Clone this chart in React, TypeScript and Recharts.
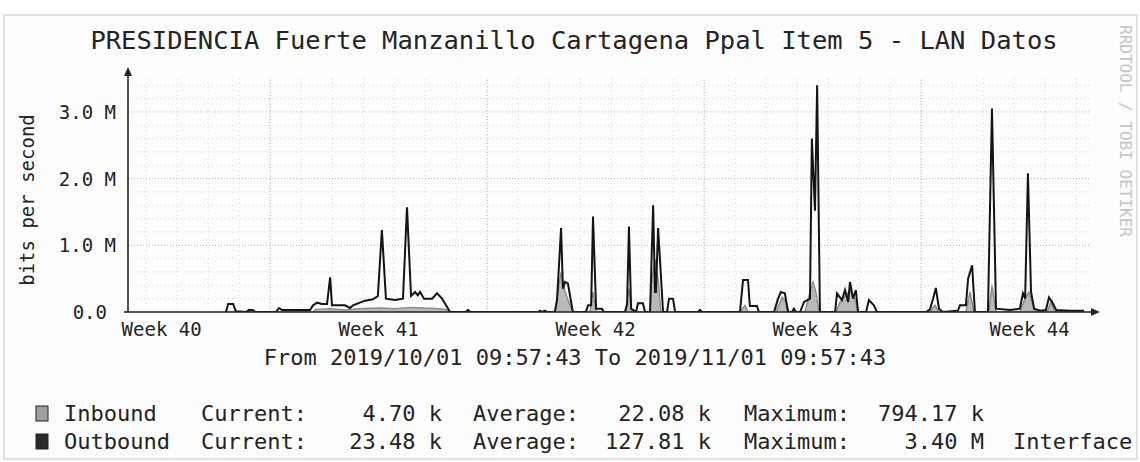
import React from 'react';
import { ComposedChart, Line, Area, XAxis, YAxis, ReferenceLine } from 'recharts';

// outbound traffic, days since 2019/10/01 09:57:43 and Mbit/s
const outboundDays = [
  3.16, 3.23, 3.39, 3.48, 3.81, 3.9, 4.03, 4.1, 4.77, 4.87, 4.97, 5.87, 5.97, 6.1, 6.26, 6.42,
  6.52, 6.58, 7.0, 7.16, 7.26, 7.48, 7.65, 7.9, 8.06, 8.19, 8.32, 8.61, 8.87, 9.0, 9.13, 9.26,
  9.35, 9.42, 9.55, 9.81, 9.97, 10.13, 10.26, 10.39, 10.9, 10.97, 11.03, 13.23, 13.29, 13.35,
  13.45, 13.52, 13.77, 13.84, 13.97, 14.03, 14.1, 14.19, 14.35, 14.77, 14.84, 14.94, 15.0, 15.1,
  15.29, 15.35, 16.03, 16.1, 16.16, 16.23, 16.39, 16.45, 16.61, 16.68, 16.84, 16.94, 17.0, 17.03,
  17.1, 17.26, 17.39, 17.45, 17.58, 17.65, 18.39, 18.45, 18.52, 19.74, 19.84, 20.0, 20.06, 20.29,
  20.35, 20.84, 20.97, 21.06, 21.19, 21.29, 21.42, 21.48, 21.55, 21.68, 21.81, 22.0, 22.06, 22.16,
  22.23, 22.32, 22.81, 22.87, 23.03, 23.13, 23.23, 23.29, 23.39, 23.48, 23.55, 23.81, 23.9, 24.06,
  24.16, 25.74, 25.87, 25.97, 26.06, 26.16, 26.29, 26.77, 26.84, 27.03, 27.1, 27.23, 27.32, 27.74,
  27.87, 28.0, 28.45, 28.77, 28.87, 28.94, 29.03, 29.13, 29.23, 29.42, 29.61, 29.71, 29.81, 29.94,
  30.39, 30.84,
];
const outboundMbps = [
  0, 0.12, 0.12, 0.01, 0, 0.03, 0.03, 0, 0, 0.06, 0.03, 0.03, 0.1, 0.14, 0.12, 0.12,
  0.52, 0.1, 0.1, 0.06, 0.1, 0.14, 0.17, 0.19, 0.24, 1.23, 0.2, 0.18, 0.2, 1.57, 0.24, 0.3,
  0.25, 0.3, 0.2, 0.2, 0.28, 0.2, 0.1, 0, 0, 0.03, 0, 0, 0.02, 0,
  0.02, 0, 0, 0.18, 1.26, 0.35, 0.45, 0.43, 0, 0, 0.1, 0.1, 1.43, 0.05,
  0.05, 0, 0, 0.12, 1.28, 0.05, 0, 0.13, 0.13, 0, 0, 1.6, 0.3, 0.3,
  1.26, 0, 0, 0.2, 0.2, 0, 0, 0.03, 0, 0, 0.48, 0.48, 0.09, 0.09,
  0, 0, 0.2, 0.3, 0.28, 0, 0, 0.05, 0, 0, 0.15, 0.2, 2.6, 1.52,
  3.4, 0, 0, 0.28, 0.18, 0.33, 0.15, 0.45, 0.2, 0.33, 0, 0, 0.18, 0.1,
  0, 0, 0.04, 0.2, 0.36, 0.05, 0, 0.02, 0.1, 0.1, 0.5, 0.7, 0, 0,
  3.05, 0.05, 0.03, 0.05, 0.28, 0.2, 2.08, 0.3, 0.05, 0.02, 0.03, 0.22, 0.15, 0.03,
  0.02, 0.02,
];

// inbound traffic, days and Mbit/s
const inboundDays = [
  3.16, 5.97, 6.06, 6.52, 7.0, 7.48, 8.13, 8.61, 9.1, 9.58, 10.06, 10.32, 10.39, 13.77, 13.87,
  13.97, 14.1, 14.26, 14.35, 14.9, 15.0, 15.1, 16.06, 16.16, 16.26, 16.84, 16.9, 17.0, 17.1,
  17.19, 19.74, 19.9, 20.0, 20.9, 21.1, 21.23, 21.32, 21.84, 22.0, 22.1, 22.19, 22.29, 22.84,
  22.97, 23.16, 23.29, 23.45, 23.55, 25.87, 26.03, 26.16, 27.03, 27.16, 27.29, 27.77, 27.87,
  28.0, 28.77, 28.94, 29.06, 29.19, 29.29, 29.65, 29.77, 29.9, 30.84,
];
const inboundMbps = [
  0, 0, 0.04, 0.05, 0.03, 0.05, 0.06, 0.05, 0.07, 0.06, 0.05, 0.03, 0, 0, 0.3,
  0.6, 0.3, 0.1, 0, 0, 0.3, 0, 0, 0.35, 0, 0, 0.5, 0.79, 0.5,
  0, 0, 0.1, 0, 0, 0.22, 0.15, 0, 0, 0.3, 0.45, 0.3, 0, 0,
  0.15, 0.25, 0.32, 0.2, 0, 0, 0.1, 0, 0, 0.3, 0, 0, 0.4,
  0, 0, 0.2, 0.3, 0.1, 0, 0, 0.15, 0, 0.01,
];

const weekTicks = [1.085, 8.085, 15.085, 22.085, 29.085];
const weekLabels = ['Week 40', 'Week 41', 'Week 42', 'Week 43', 'Week 44'];
const yTicks = [0, 1, 2, 3];

const legendRows = [
  { name: 'Inbound', color: '#a0a0a0', current: '4.70 k', average: '22.08 k', maximum: '794.17 k', extra: '' },
  { name: 'Outbound', color: '#2a2a2a', current: '23.48 k', average: '127.81 k', maximum: '3.40 M', extra: 'Interface' },
];

const W = 1140;
const H = 462;
const LEFT = 128;
const RIGHT = 1089;
const TOP = 78.6;
const BOTTOM = 312;
const FONT = '"DejaVu Sans Mono", monospace';
const INK = '#232323';

// merge both series onto one sorted x list
const data = (() => {
  const rows = new Map<number, any>();
  outboundDays.forEach((d, i) => rows.set(d, { ...(rows.get(d) || { day: d }), out: outboundMbps[i] }));
  inboundDays.forEach((d, i) => rows.set(d, { ...(rows.get(d) || { day: d }), inb: inboundMbps[i] }));
  return Array.from(rows.values()).sort((a, b) => a.day - b.day);
})();

const minorY: number[] = [];
for (let v = 0.2; v < 3.5; v += 0.2) {
  if (Math.abs(v - Math.round(v)) > 0.01) minorY.push(+v.toFixed(1));
}
const minorX: number[] = [];
for (let d = 0.585; d < 31; d += 1) minorX.push(d);
const majorX = [4.585, 11.585, 18.585, 25.585];

const XTick = ({ x, y, payload }: any) => {
  const i = weekTicks.indexOf(payload.value);
  return (
    <text x={x} y={y + 24} textAnchor="middle" fontFamily={FONT} fontSize={19} fill={INK}>
      {weekLabels[i]}
    </text>
  );
};

const YTick = ({ x, y, payload }: any) => {
  const v = payload.value;
  const label = v === 0 ? '0.0' : `${v.toFixed(1)} M`;
  return (
    <text x={v === 0 ? x - 21 : x - 12} y={y + 7} textAnchor="end" fontFamily={FONT} fontSize={19} fill={INK}>
      {label}
    </text>
  );
};

const App: React.FC = () => {
  return (
    <div style={{ position: 'fixed', left: 0, top: 0, width: W, height: H, background: '#fff' }}>
      <svg width={W} height={H} style={{ position: 'absolute', left: 0, top: 0 }}>
        <rect x={4} y={15} width={1133} height={444} fill="#fdfdfd" stroke="#cfcfcf" strokeWidth={1.2} />
      </svg>
      <div style={{ position: 'absolute', left: 0, top: 0 }}>
        <ComposedChart
          width={W}
          height={H}
          data={data}
          margin={{ top: TOP, right: W - RIGHT, bottom: H - BOTTOM - 30, left: LEFT - 120 }}
        >
          {minorY.map((v) => (
            <ReferenceLine key={'hy' + v} y={v} stroke="#d4d4d4" strokeDasharray="1 3" />
          ))}
          {minorX.map((d) => (
            <ReferenceLine key={'vx' + d} x={d} stroke="#dadada" strokeDasharray="1 3" />
          ))}
          {[1, 2, 3].map((v) => (
            <ReferenceLine key={'my' + v} y={v} stroke="#b4b4b4" strokeDasharray="1 2" />
          ))}
          {majorX.map((d) => (
            <ReferenceLine key={'mx' + d} x={d} stroke="#b8b8b8" strokeDasharray="1 2" />
          ))}
          <XAxis
            dataKey="day"
            type="number"
            domain={[0, 31]}
            ticks={weekTicks}
            tick={<XTick />}
            tickLine={false}
            tickSize={0}
            tickMargin={0}
            height={30}
            axisLine={{ stroke: INK, strokeWidth: 1.6 }}
            allowDataOverflow
          />
          <YAxis
            type="number"
            domain={[0, 3.5]}
            ticks={yTicks}
            tick={<YTick />}
            tickLine={false}
            tickSize={0}
            tickMargin={0}
            width={120}
            axisLine={{ stroke: INK, strokeWidth: 1.6 }}
            allowDataOverflow
          />
          <Area
            dataKey="inb"
            type="linear"
            stroke="#8a8a8a"
            strokeWidth={1.4}
            fill="#b9b9b9"
            fillOpacity={1}
            connectNulls
            dot={false}
            activeDot={false}
            isAnimationActive={false}
          />
          <Line
            dataKey="out"
            type="linear"
            stroke="#141414"
            strokeWidth={2}
            connectNulls
            dot={false}
            activeDot={false}
            isAnimationActive={false}
          />
        </ComposedChart>
      </div>
      <svg width={W} height={H} style={{ position: 'absolute', left: 0, top: 0, pointerEvents: 'none' }}>
        {/* axis arrows */}
        <line x1={LEFT} y1={TOP} x2={LEFT} y2={74} stroke={INK} strokeWidth={1.6} />
        <polygon points={`${LEFT - 4},${76} ${LEFT + 4},${76} ${LEFT},${67}`} fill={INK} />
        <line x1={RIGHT} y1={BOTTOM} x2={1092} y2={BOTTOM} stroke={INK} strokeWidth={1.6} />
        <line x1={LEFT - 4} y1={BOTTOM} x2={LEFT} y2={BOTTOM} stroke={INK} strokeWidth={1.6} />
        <polygon points={`${1091},${BOTTOM - 4} ${1091},${BOTTOM + 4} ${1100},${BOTTOM}`} fill={INK} />

        <text x={574} y={49} textAnchor="middle" fontFamily={FONT} fontSize={25.5} fill={INK}>
          PRESIDENCIA Fuerte Manzanillo Cartagena Ppal Item 5 - LAN Datos
        </text>
        <text
          x={0}
          y={0}
          transform="translate(34 200) rotate(-90)"
          textAnchor="middle"
          fontFamily={FONT}
          fontSize={19}
          fill={INK}
        >
          bits per second
        </text>
        <text
          x={0}
          y={0}
          transform="translate(1120 25) rotate(90)"
          textAnchor="start"
          fontFamily={FONT}
          fontSize={16}
          fill="#c4c4c4"
        >
          RRDTOOL / TOBI OETIKER
        </text>
        <text x={575} y={365} textAnchor="middle" fontFamily={FONT} fontSize={22} fill={INK}>
          From 2019/10/01 09:57:43 To 2019/11/01 09:57:43
        </text>

        {legendRows.map((r, i) => {
          const base = 421 + i * 28;
          return (
            <g key={r.name} fontFamily={FONT} fontSize={22} fill={INK}>
              <rect x={36} y={base - 15} width={12} height={15} fill={r.color} stroke="#222" strokeWidth={1} />
              <text x={64} y={base}>{r.name}</text>
              <text x={201} y={base}>Current:</text>
              <text x={442} y={base} textAnchor="end">{r.current}</text>
              <text x={473} y={base}>Average:</text>
              <text x={711} y={base} textAnchor="end">{r.average}</text>
              <text x={744} y={base}>Maximum:</text>
              <text x={984} y={base} textAnchor="end">{r.maximum}</text>
              {r.extra && <text x={1013} y={base}>{r.extra}</text>}
            </g>
          );
        })}
      </svg>
    </div>
  );
};

export default App;
